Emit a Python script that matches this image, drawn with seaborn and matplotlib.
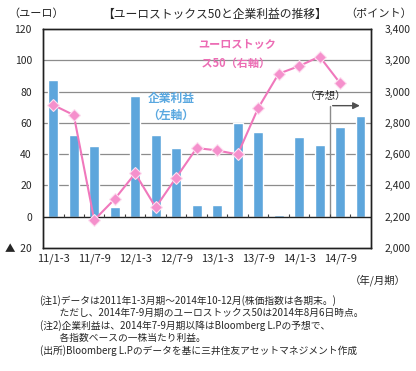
import matplotlib
matplotlib.use("Agg")
import matplotlib.pyplot as plt
import seaborn as sns
import pandas as pd
import numpy as np

# quarters 2011 Q1 .. 2014 Q4
quarters = ["11/1-3", "11/4-6", "11/7-9", "11/10-12",
            "12/1-3", "12/4-6", "12/7-9", "12/10-12",
            "13/1-3", "13/4-6", "13/7-9", "13/10-12",
            "14/1-3", "14/4-6", "14/7-9", "14/10-12"]
# 企業利益 (ユーロ, left axis)
earnings = [87.5, 52, 45, 6, 77, 52, 44, 7.5, 7.5, 60, 54, 1.2, 51, 46, 57.5, 64.5]
# ユーロストックス50 (points, right axis) - no value for last quarter
stoxx = [2914, 2850, 2179, 2313, 2477, 2260, 2450, 2639, 2624, 2598,
         2894, 3114, 3163, 3224, 3054]

left_ticks = [-20, 0, 20, 40, 60, 80, 100, 120]
left_ticklabels = ["▲  20", "0", "20", "40", "60", "80", "100", "120"]
right_ticks = [2000, 2200, 2400, 2600, 2800, 3000, 3200, 3400]

notes = ("(注1)データは2011年1-3月期～2014年10-12月(株価指数は各期末。)\n"
         "　　ただし、2014年7-9月期のユーロストックス50は2014年8月6日時点。\n"
         "(注2)企業利益は、2014年7-9月期以降はBloomberg L.Pの予想で、\n"
         "　　各指数ベースの一株当たり利益。\n"
         "(出所)Bloomberg L.Pのデータを基に三井住友アセットマネジメント作成")

sns.set_theme(style="white")
plt.rcParams['font.family'] = ['Noto Sans CJK JP', 'DejaVu Sans']

bar_color = "#5ea6dc"
line_color = "#f078bc"
pink_text = "#ec6cb4"
blue_text = "#5aa8e0"

fig = plt.figure(figsize=(4.16, 3.71), dpi=100)
ax = fig.add_axes([0.1034, 0.3315, 0.788, 0.5903])

df_bar = pd.DataFrame({"q": quarters, "earn": earnings})
sns.barplot(data=df_bar, x="q", y="earn", color=bar_color, width=0.48,
            saturation=1, ax=ax, zorder=3)

ax.set_ylim(-20, 120)
ax.set_xlim(-0.5, len(quarters) - 0.5)
ax.set_yticks(left_ticks)
ax.set_yticklabels(left_ticklabels, fontsize=7.5)
for y in [20, 40, 60, 80, 100]:
    ax.axhline(y, color="#8c8c8c", lw=0.9, zorder=1)
ax.axhline(0, color="#202020", lw=1.0, zorder=4)
# small category ticks on the zero line
ax.vlines(np.arange(len(quarters) - 1) + 0.5, 0, 1.8, color="#404040", lw=0.8, zorder=4)

ax.set_xticks(range(0, len(quarters), 2))
ax.set_xticklabels(quarters[::2], fontsize=8)
ax.tick_params(axis="x", length=0, pad=4)
ax.tick_params(axis="y", length=0, pad=8)
ax.set_xlabel("")
ax.set_ylabel("")
for s in ax.spines.values():
    s.set_color("#202020")
    s.set_linewidth(1.0)

ax2 = ax.twinx()
df_line = pd.DataFrame({"x": np.arange(len(stoxx)), "v": stoxx})
sns.lineplot(data=df_line, x="x", y="v", color=line_color, lw=1.5,
             marker="D", markersize=6, markerfacecolor="#f590cc",
             markeredgecolor="#fde0f0", markeredgewidth=0.8, ax=ax2, zorder=5)
ax2.set_ylim(2000, 3400)
ax2.set_yticks(right_ticks)
ax2.set_yticklabels([f"{v:,}" for v in right_ticks], fontsize=7.5)
ax2.tick_params(axis="y", length=0, pad=10)
ax2.set_xlabel("")
ax2.set_ylabel("")
ax2.set_xlim(-0.5, len(quarters) - 0.5)
for s in ax2.spines.values():
    s.set_color("#202020")
    s.set_linewidth(1.0)

# forecast marker
ax.plot([13.5, 13.5], [0, 71], color="#8c8c8c", lw=1.0, zorder=2)
ax.annotate("", xy=(15.1, 71), xytext=(13.5, 71),
            arrowprops=dict(arrowstyle="-|>", color="#505050", lw=1.0,
                            mutation_scale=10), zorder=6)
ax.text(13.3, 74, "（予想）", fontsize=7.5, ha="center", va="bottom", zorder=6)

ax.text(7.1, 114, "ユーロストック\n ス50（右軸）", fontsize=8, color=pink_text,
        fontweight="bold", ha="left", va="top", linespacing=1.5, zorder=6)
ax.text(4.6, 80, "企業利益\n（左軸）", fontsize=8.5, color=blue_text,
        fontweight="bold", ha="left", va="top", linespacing=1.4, zorder=6)

fig.text(0.02, 0.962, "（ユーロ）", fontsize=8, ha="left", va="center")
fig.text(0.515, 0.962, "【ユーロストックス50と企業利益の推移】", fontsize=8.5,
         ha="center", va="center")
fig.text(0.99, 0.962, "（ポイント）", fontsize=8, ha="right", va="center")
fig.text(0.975, 0.245, "（年/月期）", fontsize=7.5, ha="right", va="center")
fig.text(0.095, 0.205, notes, fontsize=7, ha="left", va="top", linespacing=1.25)

fig.savefig("out.png", dpi=100)
